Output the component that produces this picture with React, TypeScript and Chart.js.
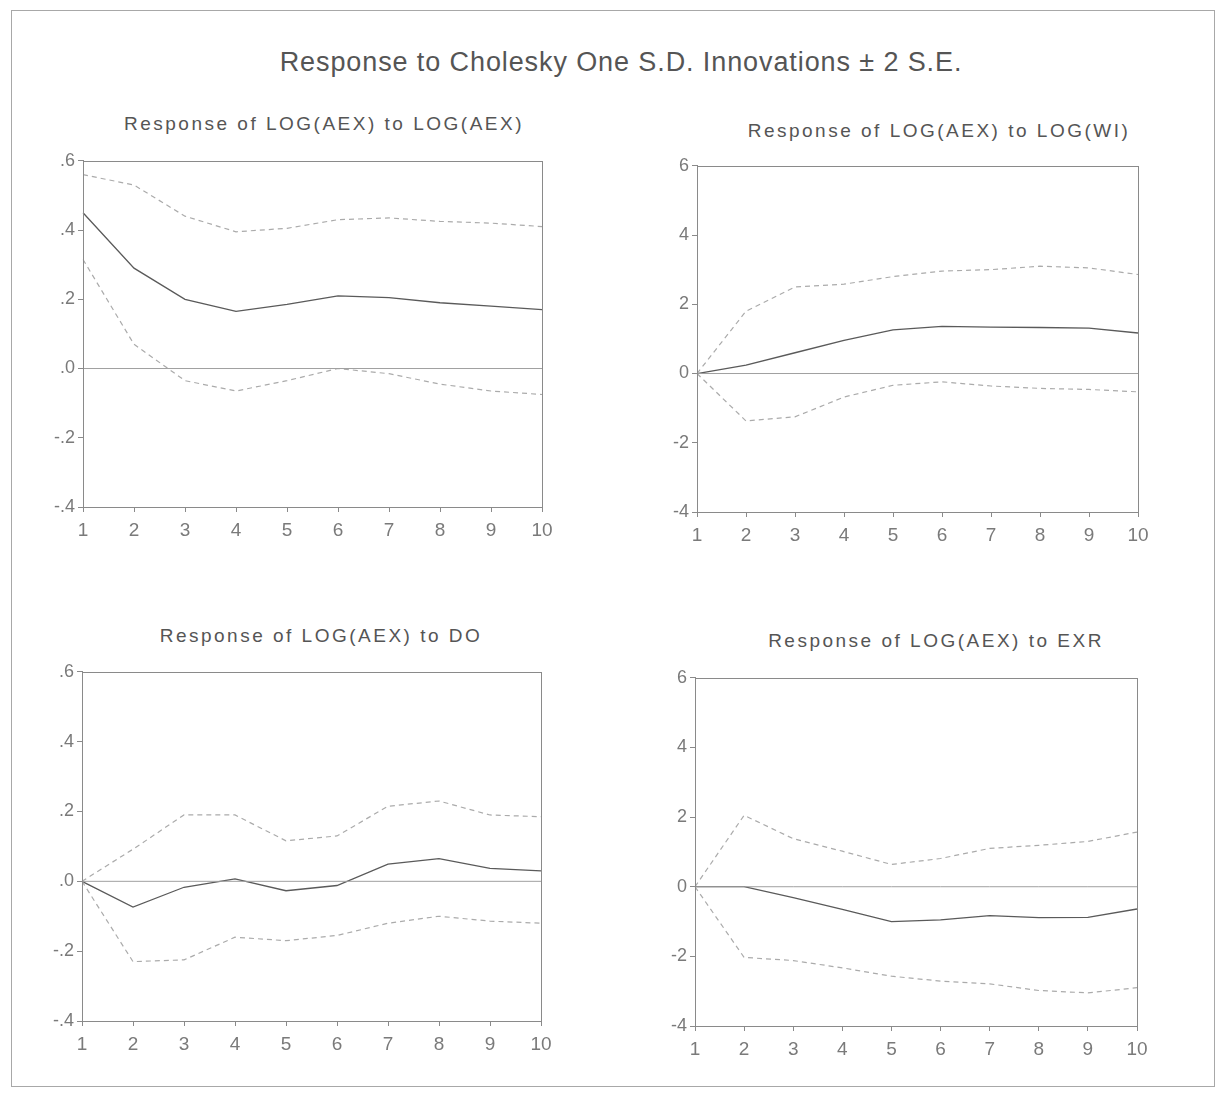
import React, { useEffect, useRef } from "react";
import { Chart, registerables } from "chart.js";

Chart.register(...registerables);

const periods = ["1", "2", "3", "4", "5", "6", "7", "8", "9", "10"];
const yTicksLeft = ["-.4", "-.2", ".0", ".2", ".4", ".6"];
const yTicksRight = ["-4", "-2", "0", "2", "4", "6"];

const aexResp = [0.45, 0.29, 0.2, 0.165, 0.185, 0.21, 0.205, 0.19, 0.18, 0.17];
const aexUpper = [0.56, 0.53, 0.44, 0.395, 0.405, 0.43, 0.435, 0.425, 0.42, 0.41];
const aexLower = [0.315, 0.07, -0.035, -0.065, -0.035, 0.0, -0.015, -0.045, -0.065, -0.075];

const wiResp = [0, 0.024, 0.06, 0.096, 0.126, 0.136, 0.134, 0.133, 0.131, 0.117];
const wiUpper = [0, 0.18, 0.25, 0.258, 0.28, 0.296, 0.3, 0.31, 0.305, 0.286];
const wiLower = [0, -0.137, -0.125, -0.068, -0.034, -0.024, -0.036, -0.043, -0.046, -0.053];

const doResp = [0, -0.074, -0.017, 0.007, -0.027, -0.012, 0.049, 0.065, 0.037, 0.03];
const doUpper = [0, 0.092, 0.19, 0.19, 0.116, 0.13, 0.215, 0.23, 0.19, 0.185];
const doLower = [0, -0.23, -0.225, -0.16, -0.17, -0.155, -0.12, -0.1, -0.114, -0.12];

const exrResp = [0, 0, -0.031, -0.065, -0.1, -0.095, -0.083, -0.089, -0.088, -0.064];
const exrUpper = [0, 0.205, 0.138, 0.102, 0.064, 0.081, 0.11, 0.119, 0.13, 0.157];
const exrLower = [0, -0.203, -0.212, -0.233, -0.257, -0.271, -0.279, -0.298, -0.305, -0.29];

const zeroLine = [0, 0, 0, 0, 0, 0, 0, 0, 0, 0];

const FONT = "'Liberation Sans', Arial, sans-serif";
const Y_AXIS_W = 53;
const PAD_TOP = 12;
const PAD_RIGHT = 28;
const X_AXIS_H = 48;

type PanelProps = {
  rect: { l: number; t: number; r: number; b: number };
  resp: number[];
  upper: number[];
  lower: number[];
  yLabels: string[];
};

const boxPlugin = {
  id: "boxPlugin",
  afterDraw(chart: any) {
    const { ctx, chartArea } = chart;
    ctx.save();
    ctx.strokeStyle = "#8a8a8a";
    ctx.lineWidth = 1;
    ctx.strokeRect(
      Math.round(chartArea.left) + 0.5,
      Math.round(chartArea.top) + 0.5,
      Math.round(chartArea.right - chartArea.left),
      Math.round(chartArea.bottom - chartArea.top)
    );
    ctx.restore();
  },
};

function Panel({ rect, resp, upper, lower, yLabels }: PanelProps) {
  const ref = useRef<HTMLCanvasElement | null>(null);
  const width = rect.r - rect.l + Y_AXIS_W + PAD_RIGHT;
  const height = rect.b - rect.t + PAD_TOP + X_AXIS_H;

  useEffect(() => {
    if (!ref.current) return;
    const dashed = {
      borderColor: "#ababab",
      borderWidth: 1.2,
      borderDash: [5, 4],
      pointRadius: 0,
      fill: false,
      tension: 0,
    };
    const chart = new Chart(ref.current, {
      type: "line",
      data: {
        labels: periods,
        datasets: [
          { label: "zero", data: zeroLine, borderColor: "#a0a0a0", borderWidth: 1, pointRadius: 0, fill: false },
          { label: "upper", data: upper, ...dashed },
          { label: "lower", data: lower, ...dashed },
          { label: "response", data: resp, borderColor: "#5a5a5a", borderWidth: 1.3, pointRadius: 0, fill: false, tension: 0 },
        ],
      },
      options: {
        animation: false,
        responsive: false,
        devicePixelRatio: 1,
        layout: { padding: { top: PAD_TOP, right: PAD_RIGHT, left: 0, bottom: 0 } },
        plugins: { legend: { display: false }, tooltip: { enabled: false }, title: { display: false } },
        scales: {
          x: {
            type: "category",
            offset: false,
            grid: { display: true, drawOnChartArea: false, drawTicks: true, tickLength: 5, color: "#8a8a8a" },
            border: { display: true, color: "#8a8a8a" },
            ticks: { color: "#7a7a7a", font: { family: FONT, size: 19 }, padding: 7, maxRotation: 0, autoSkip: false },
            afterFit(scale: any) {
              scale.height = X_AXIS_H;
            },
          },
          y: {
            type: "linear",
            min: -0.4,
            max: 0.6,
            grid: { display: true, drawOnChartArea: false, drawTicks: true, tickLength: 5, color: "#8a8a8a" },
            border: { display: true, color: "#8a8a8a" },
            ticks: {
              stepSize: 0.2,
              color: "#7a7a7a",
              font: { family: FONT, size: 18 },
              padding: 3,
              callback: (_v: any, i: number) => yLabels[i],
            },
            afterFit(scale: any) {
              scale.width = Y_AXIS_W;
            },
          },
        },
      },
      plugins: [boxPlugin],
    } as any);
    return () => chart.destroy();
  }, []);

  return (
    <canvas
      ref={ref}
      width={width}
      height={height}
      style={{
        position: "absolute",
        left: rect.l - Y_AXIS_W,
        top: rect.t - PAD_TOP,
        width,
        height,
      }}
    />
  );
}

function Title({ text, cx, cy, size, spacing }: { text: string; cx: number; cy: number; size: number; spacing: number }) {
  return (
    <div
      style={{
        position: "absolute",
        left: cx - 400,
        width: 800,
        top: cy - size / 2,
        height: size,
        lineHeight: `${size}px`,
        textAlign: "center",
        fontFamily: FONT,
        fontSize: size,
        letterSpacing: spacing,
        color: "#555",
        whiteSpace: "nowrap",
      }}
    >
      {text}
    </div>
  );
}

export default function App() {
  return (
    <div style={{ position: "absolute", left: 0, top: 0, width: 1220, height: 1093, background: "#fff", overflow: "hidden" }}>
      <div style={{ position: "absolute", left: 11, top: 10, width: 1204, height: 1077, border: "1px solid #a8a8a8", boxSizing: "border-box" }} />
      <Title text="Response to Cholesky One S.D. Innovations ± 2 S.E." cx={621} cy={62} size={27} spacing={0.9} />
      <Title text="Response of LOG(AEX) to LOG(AEX)" cx={324} cy={123} size={19} spacing={2.5} />
      <Title text="Response of LOG(AEX) to LOG(WI)" cx={939} cy={130} size={19} spacing={2.5} />
      <Title text="Response of LOG(AEX) to DO" cx={321} cy={635} size={19} spacing={2.5} />
      <Title text="Response of LOG(AEX) to EXR" cx={936} cy={640} size={19} spacing={2.5} />
      <Panel rect={{ l: 83, t: 159, r: 542, b: 507 }} resp={aexResp} upper={aexUpper} lower={aexLower} yLabels={yTicksLeft} />
      <Panel rect={{ l: 697, t: 164, r: 1138, b: 512 }} resp={wiResp} upper={wiUpper} lower={wiLower} yLabels={yTicksRight} />
      <Panel rect={{ l: 82, t: 670, r: 541, b: 1021 }} resp={doResp} upper={doUpper} lower={doLower} yLabels={yTicksLeft} />
      <Panel rect={{ l: 695, t: 676, r: 1137, b: 1026 }} resp={exrResp} upper={exrUpper} lower={exrLower} yLabels={yTicksRight} />
    </div>
  );
}
